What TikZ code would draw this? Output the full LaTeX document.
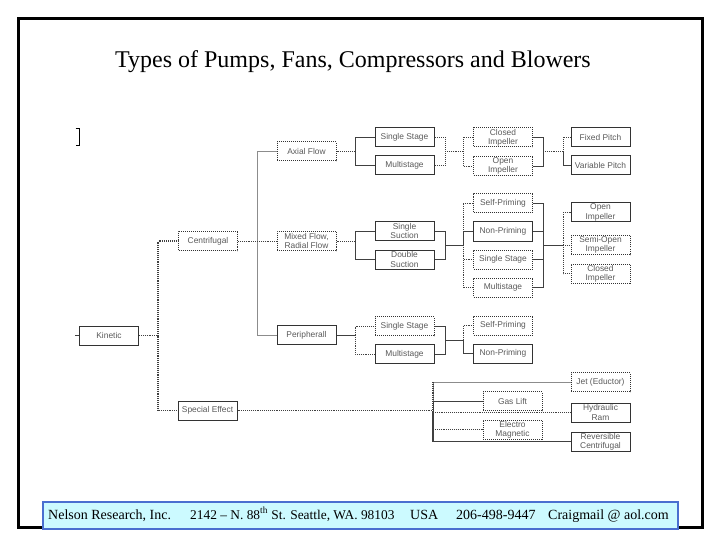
\documentclass[tikz,border=0pt]{standalone}
\usepackage{fontspec}
\setmainfont{Liberation Serif}
\setsansfont{Liberation Sans}
\definecolor{footcyan}{HTML}{CCFAFF}
\definecolor{footblue}{HTML}{4A6FD0}
\tikzset{
  box/.style={draw=black!80, line width=1pt, minimum width=59pt, minimum height=19pt,
    inner sep=0pt, align=center, text=black!65,
    font=\sffamily\fontsize{8.4}{9.2}\selectfont},
  dbox/.style={box, densely dotted},
  con/.style={draw=black!75, line width=0.9pt},
  dcon/.style={con, densely dotted},
  gcon/.style={draw=black!45, line width=0.9pt},
  foottext/.style={anchor=base west, inner sep=0pt, font=\fontsize{14}{16}\selectfont}
}
\begin{document}
\begin{tikzpicture}[x=1pt, y=-1pt]
\useasboundingbox (0,0) rectangle (720,540);
% frame
\draw[line width=3pt] (18.5,18.5) rectangle (702,527.5);
% title
\node[font=\fontsize{24}{27}\selectfont] (title) at (353,62) {Types of Pumps, Fans, Compressors and Blowers};
% bracket
\draw[line width=0.9pt] (75.5,128.5) -- (79.5,128.5) -- (79.5,145.5) -- (75.5,145.5);

% nodes
\node[box]  (kin) at (109,335.5) {Kinetic};
\node[dbox] (cen) at (208,241) {Centrifugal};
\node[box]  (spe) at (207.5,410.5) {Special Effect};
\node[dbox] (axf) at (306.5,151.5) {Axial Flow};
\node[dbox] (mix) at (306.5,241) {Mixed Flow,\\Radial Flow};
\node[box]  (per) at (306.5,335) {Peripherall};
\node[box]  (ass) at (404.5,137.5) {Single Stage};
\node[box]  (ams) at (404.5,165.5) {Multistage};
\node[box]  (mss) at (404.5,231) {Single\\Suction};
\node[box]  (mds) at (404.5,259.5) {Double\\Suction};
\node[dbox] (pss) at (404.5,326) {Single Stage};
\node[box]  (pms) at (404.5,354) {Multistage};
\node[dbox] (aci) at (503,137.5) {Closed\\Impeller};
\node[dbox] (aoi) at (503,166) {Open\\Impeller};
\node[dbox] (msp) at (503,203) {Self-Priming};
\node[box]  (mnp) at (503,231.5) {Non-Priming};
\node[dbox] (mst) at (503,259.5) {Single Stage};
\node[dbox] (mms) at (503,287.5) {Multistage};
\node[dbox] (psp) at (503,325.5) {Self-Priming};
\node[box]  (pnp) at (503,353.5) {Non-Priming};
\node[box]  (fp)  at (600.5,137.5) {Fixed Pitch};
\node[box]  (vp)  at (600.5,165.5) {Variable Pitch};
\node[box]  (oi)  at (600.5,212.5) {Open\\Impeller};
\node[dbox] (soi) at (600.5,245) {Semi-Open\\Impeller};
\node[dbox] (ci)  at (600.5,273.5) {Closed\\Impeller};
\node[dbox] (jet) at (600.5,382) {Jet (Eductor)};
\node[box]  (hr)  at (600.5,412.5) {Hydraulic\\Ram};
\node[box]  (rc)  at (600.5,441.5) {Reversible\\Centrifugal};
\node[dbox] (gl)  at (512.5,401) {Gas Lift};
\node[dbox] (em)  at (512.5,429.5) {Electro\\Magnetic};

% bus coordinates
\coordinate (kb) at (158,335.5);
\coordinate (cb) at (257,241);
\coordinate (ab) at (355,151.5);
\coordinate (ab2) at (445,151.5);
\coordinate (ab3) at (463,151.5);
\coordinate (ab4) at (543,151.5);
\coordinate (ab5) at (563,151.5);
\coordinate (mb) at (355,241);
\coordinate (mb2) at (445,245);
\coordinate (mb3) at (463,245);
\coordinate (mb4) at (543,245);
\coordinate (mb5) at (563,245);
\coordinate (pb) at (355,335);
\coordinate (pb2) at (445,340);
\coordinate (pb3) at (463,340);
\coordinate (sb) at (433,410.5);

% kinetic level
\draw[con] (kin.west) -- ++(-4,0);
\draw[dcon] (kin.east) -- (kb);
\draw[dcon, line width=1.5pt] (kb) |- (cen.west);
\draw[dcon, line width=1.5pt] (kb) |- (spe.west);
% centrifugal level
\draw[dcon] (cen.east) -- (cb);
\draw[gcon] (cb) |- (axf.west);
\draw[gcon] (cb) |- (per.west);
\draw[dcon] (cb) -- (mix.west);
% axial flow
\draw[dcon] (axf.east) -- (ab);
\draw[con] (ab) |- (ass.west);
\draw[con] (ab) |- (ams.west);
\draw[dcon] (ab2) |- (ass.east);
\draw[dcon] (ab2) |- (ams.east);
\draw[dcon] (ab2) -- (ab3);
\draw[dcon] (ab3) |- (aci.west);
\draw[dcon] (ab3) |- (aoi.west);
\draw[con] (ab4) |- (aci.east);
\draw[con] (ab4) |- (aoi.east);
\draw[dcon] (ab4) -- (ab5);
\draw[dcon] (ab5) |- (fp.west);
\draw[con] (ab5) |- (vp.west);
% mixed flow
\draw[dcon] (mix.east) -- (mb);
\draw[con] (mb) |- (mss.west);
\draw[con] (mb) |- (mds.west);
\draw[con] (mb2) |- (mss.east);
\draw[con] (mb2) |- (mds.east);
\draw[con] (mb2) -- (mb3);
\draw[dcon] (mb3) |- (msp.west);
\draw[con] (mb3) |- (mnp.west);
\draw[dcon] (mb3) |- (mst.west);
\draw[dcon] (mb3) |- (mms.west);
\draw[con] (mb4) |- (msp.east);
\draw[con] (mb4) |- (mnp.east);
\draw[con] (mb4) |- (mst.east);
\draw[con] (mb4) |- (mms.east);
\draw[con] (mb4) -- (mb5);
\draw[dcon] (mb5) |- (oi.west);
\draw[dcon] (mb5) |- (soi.west);
\draw[dcon] (mb5) |- (ci.west);
% peripheral
\draw[con] (per.east) -- (pb);
\draw[dcon] (pb) |- (pss.west);
\draw[dcon] (pb) |- (pms.west);
\draw[con] (pb2) |- (pss.east);
\draw[con] (pb2) |- (pms.east);
\draw[con] (pb2) -- (pb3);
\draw[dcon] (pb3) |- (psp.west);
\draw[con] (pb3) |- (pnp.west);
% special effect
\draw[dcon] (spe.east) -- (sb);
\draw[gcon] (sb) |- (jet.west);
\draw[con] (sb) |- (gl.west);
\draw[dcon] (sb) |- (hr.west);
\draw[dcon] (sb) |- (em.west);
\draw[con, line width=1.3pt] (sb) |- (rc.west);
\draw[dcon, line width=1.3pt] (sb |- jet.west) -- (sb |- rc.west);

% footer
\node[draw=footblue, line width=2pt, fill=footcyan, minimum width=635pt, minimum height=27pt,
  inner sep=0pt, anchor=north west] (foot) at (42,501) {};
\node[foottext] (f1) at (48,519) {Nelson Research, Inc.};
\node[foottext, font=\fontsize{13.4}{16}\selectfont] (f2) at (190,519) {2142 -- N. 88\textsuperscript{th} St. Seattle, WA. 98103};
\node[foottext] (f3) at (410,519) {USA};
\node[foottext] (f4) at (456,519) {206-498-9447};
\node[foottext] (f5) at (548,519) {Craigmail @ aol.com};
\end{tikzpicture}
\end{document}
